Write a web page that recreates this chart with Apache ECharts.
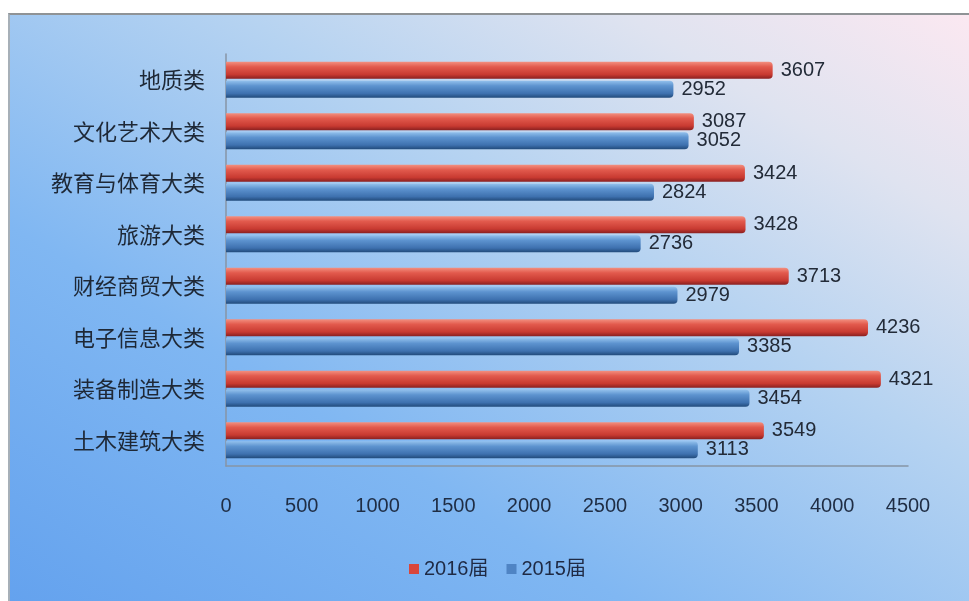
<!DOCTYPE html>
<html>
<head>
<meta charset="utf-8">
<script src="https://cdn.jsdelivr.net/npm/echarts@6/dist/echarts.min.js"></script>
<style>
  html, body { margin: 0; padding: 0; background: #ffffff; }
  #bg {
    position: absolute; left: 8px; top: 13px; width: 961px; height: 588px;
    border-top: 2px solid #8f9396; border-left: 2px solid #a7b0b8;
    box-sizing: border-box;
    background: linear-gradient(to top right, #64a2ee 0%, #80b7f2 32%, #b6d3f1 62%, #dfe3f0 82%, #fbe8f1 100%);
  }
  #chart { position: absolute; left: 0; top: 0; width: 969px; height: 601px; }
</style>
</head>
<body>
<div id="bg"></div>
<div id="chart"></div>
<script>
const categories = ['土木建筑大类', '装备制造大类', '电子信息大类', '财经商贸大类', '旅游大类', '教育与体育大类', '文化艺术大类', '地质类'];
const values2016 = [3549, 4321, 4236, 3713, 3428, 3424, 3087, 3607];
const values2015 = [3113, 3454, 3385, 2979, 2736, 2824, 3052, 2952];
const seriesNames = ['2016届', '2015届'];
const axisMin = 0, axisMax = 4500, axisStep = 500;

const chart = echarts.init(document.getElementById('chart'), null, { renderer: 'canvas' });

const redGrad = new echarts.graphic.LinearGradient(0, 0, 0, 1, [
  { offset: 0, color: '#f39080' },
  { offset: 0.3, color: '#e25a4d' },
  { offset: 0.75, color: '#c83a31' },
  { offset: 1, color: '#8a2020' }
]);
const blueGrad = new echarts.graphic.LinearGradient(0, 0, 0, 1, [
  { offset: 0, color: '#92c0ec' },
  { offset: 0.3, color: '#5d93cf' },
  { offset: 0.75, color: '#3e71af' },
  { offset: 1, color: '#214a7a' }
]);

const labelStyle = {
  show: true, position: 'right', distance: 8,
  fontFamily: 'Liberation Sans', fontSize: 20, color: '#232b38'
};

chart.setOption({
  backgroundColor: 'transparent',
  animation: false,
  legend: {
    data: [
      { name: seriesNames[0], itemStyle: { color: '#d9463b' } },
      { name: seriesNames[1], itemStyle: { color: '#4f84c4' } }
    ],
    bottom: 17, left: 404,
    itemWidth: 10, itemHeight: 10, itemGap: 18,
    icon: 'rect',
    textStyle: { fontFamily: 'Liberation Sans, Noto Sans CJK SC', fontSize: 20, color: '#1f2a44' }
  },
  grid: { left: 226, right: 61, top: 54, bottom: 135, containLabel: false },
  xAxis: {
    type: 'value', min: axisMin, max: axisMax, interval: axisStep,
    axisLine: { show: true, lineStyle: { color: '#8795a5', width: 1.5 } },
    axisTick: { show: false },
    splitLine: { show: false },
    axisLabel: {
      margin: 30, fontFamily: 'Liberation Sans', fontSize: 20, color: '#1f2d44',
      formatter: function (v) { return String(v); }
    }
  },
  yAxis: {
    type: 'category', data: categories,
    axisLine: { show: true, lineStyle: { color: '#8795a5', width: 1.5 } },
    axisTick: { show: false },
    axisLabel: { margin: 21, fontFamily: 'Noto Sans CJK SC', fontSize: 22, color: '#1e2836' }
  },
  series: [
    {
      name: seriesNames[0], type: 'bar', data: values2016,
      barWidth: 17, barGap: '12%',
      itemStyle: { color: redGrad, borderRadius: [0, 4, 4, 0] },
      label: labelStyle
    },
    {
      name: seriesNames[1], type: 'bar', data: values2015,
      barWidth: 17, barGap: '12%',
      itemStyle: { color: blueGrad, borderRadius: [0, 4, 4, 0] },
      label: labelStyle
    }
  ]
});
</script>
</body>
</html>
